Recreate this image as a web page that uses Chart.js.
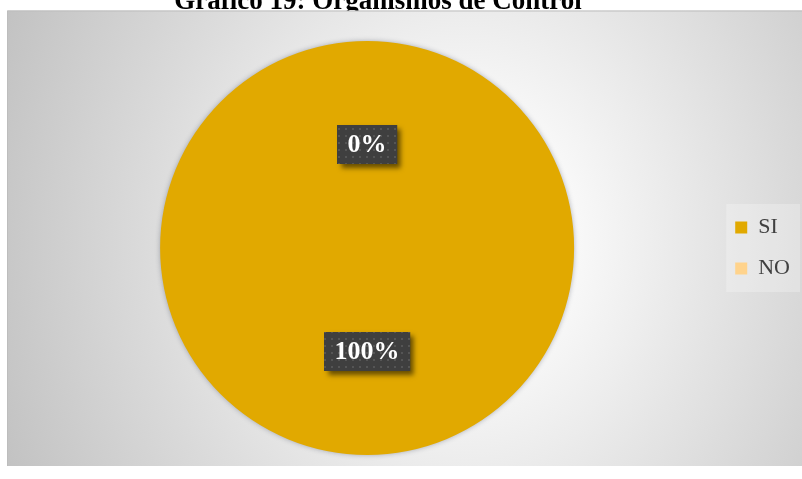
<!DOCTYPE html>
<html lang="es">
<head>
<meta charset="utf-8">
<title>Gráfico 19: Organismos de Control</title>
<script src="https://cdn.jsdelivr.net/npm/chart.js@4.4.1/dist/chart.umd.min.js"></script>
<style>
  html, body { margin: 0; padding: 0; background: #ffffff; }
  #wrap { position: relative; width: 802px; height: 479px; }
</style>
</head>
<body>
<div id="wrap"><canvas id="pieChart" width="802" height="479"></canvas></div>
<script>
// Gráfico 19 — Organismos de Control (pie with SI / NO)

const TITLE      = "Gráfico 19: Organismos de Control";
const CATEGORIES = ["SI", "NO"];
const VALUES     = [100, 0];
const COLORS     = ["#E1A900", "#FFD38C"];

const SERIF = "'Liberation Serif', 'Times New Roman', serif";

// ---------------------------------------------------------------------------
// Panel background: soft elliptical grey gradient, light behind the pie
// ---------------------------------------------------------------------------
const panelBackground = {
  id: "panelBackground",
  beforeDraw(chart) {
    const ctx = chart.ctx;
    const x0 = 7, y0 = 10.5, x1 = 802, y1 = 466;
    ctx.save();
    ctx.fillStyle = "#ffffff";
    ctx.fillRect(0, 0, chart.width, chart.height);

    ctx.beginPath();
    ctx.rect(x0, y0, x1 - x0, y1 - y0);
    ctx.clip();
    ctx.translate(465, 240);
    ctx.scale(1, 1.15);
    const g = ctx.createRadialGradient(0, 0, 0, 0, 0, 500);
    g.addColorStop(0,    "#ffffff");
    g.addColorStop(0.2,  "#fafafa");
    g.addColorStop(0.65, "#dadada");
    g.addColorStop(1,    "#c2c2c2");
    ctx.fillStyle = g;
    ctx.fillRect(-800, -800, 1700, 1600);
    ctx.restore();

    ctx.save();
    ctx.strokeStyle = "#bdbdbd";
    ctx.lineWidth = 1;
    ctx.beginPath();
    ctx.moveTo(x0 + 0.5, y1);
    ctx.lineTo(x0 + 0.5, y0 + 0.5);
    ctx.lineTo(x1, y0 + 0.5);
    ctx.stroke();
    ctx.restore();

    // legend panel
    const hb = chart.legend && chart.legend.legendHitBoxes;
    if (hb && hb.length) {
      const top = hb[0].top - 12.5;
      const bottom = hb[hb.length - 1].top + hb[hb.length - 1].height + 12.5;
      const left = hb[0].left - 9;
      ctx.save();
      ctx.fillStyle = "rgba(255,255,255,0.25)";
      ctx.fillRect(left, top, 800 - left, bottom - top);
      ctx.restore();
    }
  },
};

// ---------------------------------------------------------------------------
// Title, partly hidden behind the top of the panel
// ---------------------------------------------------------------------------
const chartTitle = {
  id: "chartTitle",
  afterDraw(chart) {
    const ctx = chart.ctx;
    ctx.save();
    ctx.beginPath();
    ctx.rect(0, 0, chart.width, 10.5);
    ctx.clip();
    ctx.font = "bold 27px " + SERIF;
    ctx.fillStyle = "#000000";
    ctx.textAlign = "center";
    ctx.textBaseline = "alphabetic";
    ctx.fillText(TITLE, 378, 9);
    ctx.restore();
  },
};

// ---------------------------------------------------------------------------
// Soft shadow around the pie
// ---------------------------------------------------------------------------
const pieShadow = {
  id: "pieShadow",
  beforeDatasetDraw(chart) {
    const ctx = chart.ctx;
    ctx.save();
    ctx.shadowColor = "rgba(40,50,70,0.35)";
    ctx.shadowBlur = 5;
  },
  afterDatasetDraw(chart) {
    chart.ctx.restore();
  },
};

// ---------------------------------------------------------------------------
// Percentage labels in dark dotted boxes with drop shadow
// ---------------------------------------------------------------------------
function dotPattern(ctx) {
  const c = document.createElement("canvas");
  c.width = 7; c.height = 7;
  const p = c.getContext("2d");
  p.fillStyle = "#3f3f3f";
  p.fillRect(0, 0, 7, 7);
  p.fillStyle = "#555555";
  p.fillRect(2, 2, 2, 2);
  return ctx.createPattern(c, "repeat");
}

const percentLabels = {
  id: "percentLabels",
  afterDatasetsDraw(chart) {
    const ctx = chart.ctx;
    const meta = chart.getDatasetMeta(0);
    const data = chart.data.datasets[0].data;
    const total = data.reduce((a, b) => a + b, 0);
    const pattern = dotPattern(ctx);

    meta.data.forEach((arc, i) => {
      const pos = arc.tooltipPosition();
      const text = Math.round(data[i] / total * 100) + "%";
      ctx.save();
      ctx.font = "bold 26px " + SERIF;
      const w = ctx.measureText(text).width + 21;
      const h = 39;
      const x = pos.x - w / 2;
      const y = pos.y - h / 2;

      ctx.shadowColor = "rgba(0,0,0,0.55)";
      ctx.shadowBlur = 5;
      ctx.shadowOffsetX = 4;
      ctx.shadowOffsetY = 4;
      ctx.fillStyle = "#3f3f3f";
      ctx.fillRect(x, y, w, h);
      ctx.shadowColor = "transparent";
      ctx.fillStyle = pattern;
      ctx.fillRect(x, y, w, h);

      ctx.fillStyle = "#ffffff";
      ctx.textAlign = "center";
      ctx.textBaseline = "middle";
      ctx.fillText(text, pos.x, pos.y + 1);
      ctx.restore();
    });
  },
};

new Chart(document.getElementById("pieChart"), {
  type: "pie",
  data: {
    labels: CATEGORIES,
    datasets: [{
      data: VALUES,
      backgroundColor: COLORS,
      borderWidth: 0,
    }],
  },
  options: {
    responsive: false,
    animation: false,
    events: [],
    layout: { padding: { left: 18, top: 41, bottom: 24, right: 2 } },
    plugins: {
      legend: {
        position: "right",
        labels: {
          font: { family: SERIF, size: 22 },
          color: "#404040",
          boxWidth: 12,
          boxHeight: 12,
          padding: 19,
        },
      },
      tooltip: { enabled: false },
    },
  },
  plugins: [panelBackground, pieShadow, percentLabels, chartTitle],
});
</script>
</body>
</html>
